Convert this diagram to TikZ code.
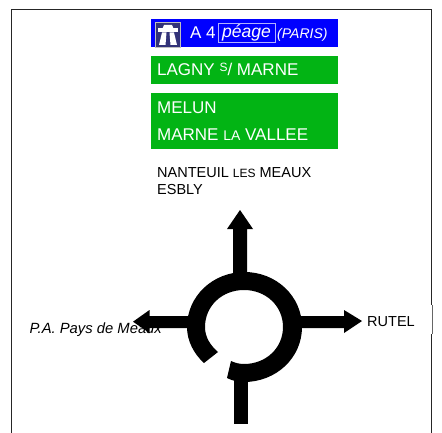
\documentclass[tikz,border=0pt]{standalone}
\usepackage{fontspec}
\setmainfont{Liberation Sans}
\definecolor{signblue}{RGB}{0,0,255}
\definecolor{signgreen}{RGB}{2,180,20}
\definecolor{iconblue}{RGB}{50,50,120}
\tikzset{
  lab/.style={anchor=base west,inner sep=0pt,font=\fontsize{17}{17}\selectfont},
  wlab/.style={lab,text=white},
  small/.style={lab,font=\fontsize{14.5}{14.5}\selectfont},
  road/.style={fill=black,draw=none}
}
\newcommand{\smc}[1]{{\fontsize{14}{14}\selectfont #1}}
\begin{document}
\begin{tikzpicture}[x=1pt,y=-1pt]
\useasboundingbox (0,0) rectangle (442,433);
\fill[white] (0,0) rectangle (442,433);
% frame
\draw[line width=1.6pt,black!85] (11.5,433) -- (11.5,9.5) -- (431.5,9.5) -- (431.5,433);
\fill[white] (430.2,305) rectangle (433,334);
\draw[line width=0.5pt,black!60] (432,305) -- (432,334);
% sign panels
\fill[signblue] (151,19) rectangle (338,47);
\fill[signgreen] (151,56) rectangle (338,84);
\fill[signgreen] (151,93) rectangle (338,149);
% motorway icon
\fill[iconblue] (155.5,22) rectangle (180.5,47);
\draw[white!75!black,line width=0.8pt] (155.5,22) rectangle (180.5,47);
\fill[white] (158,28.5) -- (178,28.5) -- (178,32.5) -- (158,32.5) -- cycle;
\fill[white] (164,25) -- (172,25) -- (173.5,28.5) -- (162.5,28.5) -- cycle;
\fill[white] (162,32.5) -- (166.5,32.5) -- (165.5,45) -- (159,45) -- cycle;
\fill[white] (169.5,32.5) -- (174,32.5) -- (177,45) -- (170.5,45) -- cycle;
% sign texts
\node[wlab] (a4) at (190,39) {A 4};
\draw[white!70!blue,line width=0.6pt] (218,23) rectangle (275,42);
\node[wlab,font=\fontsize{17.5}{17.5}\selectfont\itshape] (peage) at (222,37.5) {péage};
\node[wlab,font=\fontsize{14}{14}\selectfont\itshape] (paris) at (277,39) {(PARIS)};
\node[wlab] (lagny) at (157,75.5) {LAGNY {\fontsize{12}{12}\selectfont\raisebox{4pt}{S}}/ MARNE};
\node[wlab] (melun) at (157,114) {MELUN};
\node[wlab] (marne) at (157,141) {MARNE \smc{LA} VALLEE};
\node[small] (nant) at (157,178) {NANTEUIL {\fontsize{12}{12}\selectfont LES} MEAUX};
\node[small] (esbly) at (157,195) {ESBLY};
% roads
\fill[road] (233,229) -- (227,229) -- (240,210) -- (253,229) -- (247,229) -- (247,276) -- (233,276) -- cycle;
\fill[road] (190,316) -- (149.5,316) -- (149.5,310) -- (133,321.7) -- (149.5,333) -- (149.5,328) -- (190,328) -- cycle;
\fill[road] (298,316) -- (344,316) -- (344,310) -- (362,321) -- (344,333) -- (344,328) -- (298,328) -- cycle;
\fill[road] (234,378) rectangle (248,423.7);
% ring
\fill[road] (204,363)
  -- (218,352)
  .. controls (210,345) and (205,337) .. (205,327)
  .. controls (205,306) and (222,290) .. (244,290)
  .. controls (266,290) and (283,306) .. (283,327)
  .. controls (283,348) and (266,364) .. (244,364)
  .. controls (240,364) and (235,363) .. (231,361)
  -- (227,378)
  .. controls (233,381) and (238,382) .. (244,382)
  .. controls (276,382) and (302,358) .. (302,327)
  .. controls (302,296) and (276,272) .. (244.5,272)
  .. controls (213,272) and (187,296) .. (187,327)
  .. controls (187,341) and (194,354) .. (204,363) -- cycle;
% outside labels
\node[small,font=\fontsize{14.8}{14.8}\selectfont\itshape] (pa) at (29.5,333) {P.A. Pays de Meaux};
\node[small] (rutel) at (367,326) {RUTEL};
\end{tikzpicture}
\end{document}
